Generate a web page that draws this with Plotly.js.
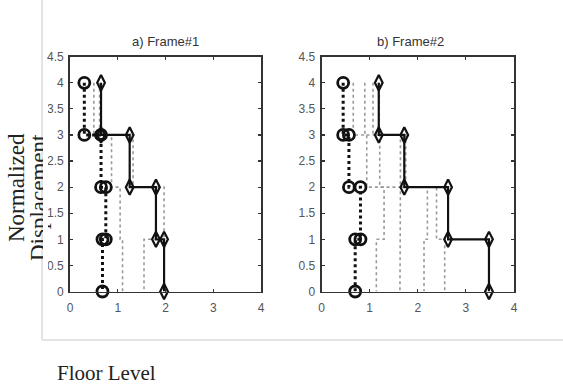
<!DOCTYPE html>
<html>
<head>
<meta charset="utf-8">
<script src="https://cdn.plot.ly/plotly-3.0.1.min.js"></script>
<style>html,body{margin:0;padding:0;background:#fff;}#chart{width:563px;height:387px;}</style>
</head>
<body>
<div id="chart"></div>
<script>
// Floor levels (top to bottom) at which each story value applies
const levels = [4, 3, 2, 1];

// Frame #1 story values (normalized displacement per story, from top story down)
const f1Circle  = [0.30, 0.65, 0.75, 0.68];
const f1Diamond = [0.65, 1.25, 1.80, 1.97];
const f1GrayA   = [0.50, 0.87, 1.05, 1.10];
const f1GrayB   = [0.62, 1.32, 1.97, 1.55];

// Frame #2 story values
const f2Circle  = [0.45, 0.57, 0.81, 0.70];
const f2Diamond = [1.19, 1.72, 2.63, 3.48];
const f2Gray1   = [0.66, 0.94, 1.30, 1.14];
const f2Gray2   = [0.90, 1.21, 1.64, 1.63];
const f2Gray3   = [1.07, 1.64, 2.20, 2.13];
const f2Gray4   = [1.20, 1.75, 2.39, 2.56];

// Tick labels
const xTickVals = [0, 1, 2, 3, 4];
const xTickText = ['0', '1', '2', '3', '4'];
const yTickVals = [0, 0.5, 1, 1.5, 2, 2.5, 3, 3.5, 4, 4.5];
const yTickText = ['0', '0.5', '1', '1.5', '2', '2.5', '3', '3.5', '4', '4.5'];

const panelTitles = ['a) Frame#1', 'b) Frame#2'];
const xTitle = 'Floor Level';
const yTitleLines = ['Normalized', 'Displacement'];

// Build staircase coordinates from story values
function stairs(vals) {
  const x = [], y = [];
  vals.forEach((v, i) => {
    x.push(v, v);
    y.push(levels[i], levels[i] - 1);
  });
  return {x, y};
}

function grayTrace(vals, xa, ya) {
  const s = stairs(vals);
  return {x: s.x, y: s.y, xaxis: xa, yaxis: ya, mode: 'lines', type: 'scatter',
    line: {color: '#9a9a9a', width: 1.6, dash: 'dot'}, cliponaxis: false, hoverinfo: 'skip'};
}
function circleTrace(vals, xa, ya) {
  const s = stairs(vals);
  return {x: s.x, y: s.y, xaxis: xa, yaxis: ya, mode: 'lines+markers', type: 'scatter',
    line: {color: '#111', width: 3, dash: 'dot'},
    marker: {symbol: 'circle-open', size: 11, color: '#111', line: {width: 2.8, color: '#111'}},
    cliponaxis: false};
}
function diamondTrace(vals, xa, ya) {
  const s = stairs(vals);
  return {x: s.x, y: s.y, xaxis: xa, yaxis: ya, mode: 'lines+markers', type: 'scatter',
    line: {color: '#111', width: 2.2},
    marker: {symbol: 'diamond-tall-open', size: 11, color: '#111', line: {width: 2.2, color: '#111'}},
    cliponaxis: false};
}

const data = [
  grayTrace(f1GrayA, 'x', 'y'),
  grayTrace(f1GrayB, 'x', 'y'),
  diamondTrace(f1Diamond, 'x', 'y'),
  circleTrace(f1Circle, 'x', 'y'),
  grayTrace(f2Gray1, 'x2', 'y2'),
  grayTrace(f2Gray2, 'x2', 'y2'),
  grayTrace(f2Gray3, 'x2', 'y2'),
  grayTrace(f2Gray4, 'x2', 'y2'),
  diamondTrace(f2Diamond, 'x2', 'y2'),
  circleTrace(f2Circle, 'x2', 'y2')
];

const W = 563, H = 387;
const px = v => v / W;
const py = v => (H - v) / H;

const tickFont = {family: 'Liberation Sans, Arial, sans-serif', size: 12, color: '#555'};
function xAxis(d0, d1, anchor) {
  return {domain: [px(d0), px(d1)], anchor: anchor, range: [0, 4], tickvals: xTickVals, ticktext: xTickText,
    ticks: 'inside', ticklen: 3, tickcolor: '#333', tickwidth: 1.2, mirror: 'allticks', showline: true,
    linecolor: '#333', linewidth: 1.8, showgrid: false, zeroline: false, tickfont: tickFont,
    ticklabelstandoff: 4, fixedrange: true};
}
function yAxis(anchor) {
  return {domain: [py(291.5), py(56.7)], anchor: anchor, range: [0, 4.5], tickvals: yTickVals, ticktext: yTickText,
    ticks: 'inside', ticklen: 3, tickcolor: '#333', tickwidth: 1.2, mirror: 'allticks', showline: true,
    linecolor: '#333', linewidth: 1.8, showgrid: false, zeroline: false, tickfont: tickFont,
    ticklabelstandoff: 2, fixedrange: true};
}

const titleFont = {family: 'Liberation Serif, Times New Roman, serif', size: 23, color: '#222'};
const layout = {
  width: W, height: H, autosize: false,
  margin: {l: 0, r: 0, t: 0, b: 0},
  paper_bgcolor: '#fff', plot_bgcolor: '#fff',
  showlegend: false,
  xaxis: xAxis(70, 261, 'y'),
  yaxis: yAxis('x'),
  xaxis2: xAxis(321.5, 514, 'y2'),
  yaxis2: yAxis('x2'),
  shapes: [
    {type: 'line', xref: 'paper', yref: 'paper', x0: px(42), x1: px(42), y0: py(340), y1: 1,
      line: {color: '#c8c8c8', width: 1}},
    {type: 'line', xref: 'paper', yref: 'paper', x0: px(42), x1: 1, y0: py(340), y1: py(340),
      line: {color: '#c8c8c8', width: 1}}
  ],
  annotations: [
    {text: panelTitles[0], xref: 'paper', yref: 'paper', x: px(165), y: py(42), xanchor: 'center', yanchor: 'middle',
      showarrow: false, font: {family: 'Liberation Sans, Arial, sans-serif', size: 13, color: '#333'}},
    {text: panelTitles[1], xref: 'paper', yref: 'paper', x: px(410), y: py(42), xanchor: 'center', yanchor: 'middle',
      showarrow: false, font: {family: 'Liberation Sans, Arial, sans-serif', size: 13, color: '#333'}},
    {text: xTitle, xref: 'paper', yref: 'paper', x: px(55), y: py(373), xanchor: 'left', yanchor: 'middle',
      showarrow: false, font: {family: 'Liberation Serif, Times New Roman, serif', size: 21, color: '#222'}},
    {text: yTitleLines[0], xref: 'paper', yref: 'paper', x: px(16), y: py(188), xanchor: 'center', yanchor: 'middle',
      textangle: -90, showarrow: false, font: titleFont},
    {text: yTitleLines[1], xref: 'paper', yref: 'paper', x: px(38), y: py(198), xanchor: 'center', yanchor: 'middle',
      textangle: -90, showarrow: false, font: titleFont},
    // white strip: the second title line is cut off at the frame edge, as in the source figure
    {text: ' ', xref: 'paper', yref: 'paper', x: px(45), y: py(198), xanchor: 'center', yanchor: 'middle',
      width: 5, height: 190, bgcolor: '#ffffff', borderpad: 0, borderwidth: 0, showarrow: false,
      font: {size: 4, color: '#ffffff'}}
  ]
};

Plotly.newPlot('chart', data, layout, {staticPlot: true, displayModeBar: false});
</script>
</body>
</html>
